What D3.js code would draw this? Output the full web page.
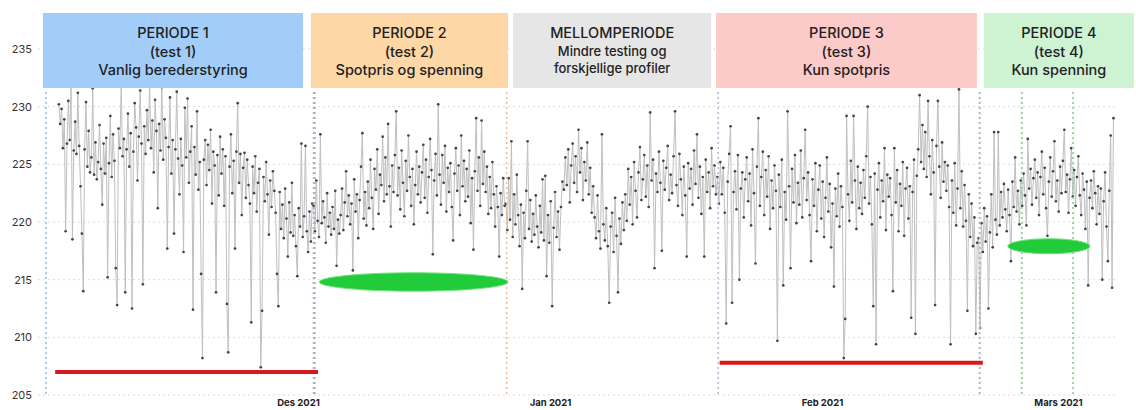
<!DOCTYPE html>
<html>
<head>
<meta charset="utf-8">
<script src="https://cdn.jsdelivr.net/npm/d3@7"></script>
<style>
  body { margin: 0; background: #fff; }
  svg { display: block; }
</style>
</head>
<body>
<svg id="chart" width="1136" height="410"></svg>
<script>
// Spenning (V) hver 4. time, lest av bildet periode for periode
const periode1 = [
  230.2, 228.5, 229.8, 226.4, 228.9, 219.2, 226.8, 230.5, 227.1, 231.8, 218.5, 226.2, 228.7, 225.9, 231.2, 226.6, 223.1, 219.0, 214.0, 226.3,
  230.4, 224.8, 227.9, 224.3, 225.6, 231.6, 224.1, 226.9, 223.7, 225.2, 228.4, 224.6, 221.5, 226.8, 224.2, 227.3, 215.2, 225.1, 229.2, 223.9,
  227.6, 225.3, 216.0, 212.8, 228.1, 226.4, 231.9, 225.7, 227.2, 213.9, 226.3, 229.4, 224.8, 227.7, 212.5, 226.1, 230.3, 228.2, 223.6, 227.4,
  231.4, 226.8, 214.6, 228.3, 225.9, 229.7, 227.1, 232.0, 226.4, 228.8, 224.3, 230.6, 227.9, 221.2, 228.5, 226.2, 231.7, 225.4, 228.9, 227.3,
  217.7, 226.5, 230.8, 224.2, 227.1, 219.0, 226.3, 231.3, 225.5, 222.4, 227.2, 224.9, 217.4, 229.9, 225.6, 230.7, 223.4, 226.1, 228.3, 212.4,
  226.5, 224.1, 229.6, 222.8, 225.2, 215.5, 208.2, 225.4, 227.1, 223.2, 226.7, 224.5, 228.0, 221.6, 226.1, 224.9, 213.9, 225.8, 222.3, 227.4,
  224.2, 226.3, 221.4, 225.7, 212.9, 208.7, 224.8, 227.6, 222.5, 225.3, 217.7, 226.1, 230.3, 223.4, 225.9, 220.6, 224.7, 226.0, 222.1, 225.4,
  223.2, 221.6, 211.3, 224.8, 222.5, 225.7, 220.9, 223.4, 224.6, 207.4, 212.3, 223.9, 221.8, 225.2, 222.4, 218.9, 223.6, 221.3, 224.4, 222.7,
  220.8, 215.5, 212.7, 222.6, 219.4, 221.5, 218.6, 222.9, 220.3, 217.0, 221.7, 219.1, 223.4, 218.8, 220.6, 217.9, 215.3, 221.2, 219.6, 226.8,
  218.7, 220.5, 226.6, 219.2, 217.4, 220.9, 218.3, 221.6
];
const periode2 = [
  221.4, 219.2, 223.6, 220.1, 218.7, 227.6, 219.9, 221.8, 220.4, 218.2, 222.5, 219.6, 220.8, 218.9, 221.3, 219.4, 222.7, 216.2, 220.2, 219.0,
  220.6, 222.9, 219.3, 221.7, 224.4, 220.5, 222.3, 219.8, 221.6, 215.8, 223.7, 220.9, 222.4, 218.6, 221.9, 224.8, 227.7, 220.3, 222.6, 219.7,
  223.5, 221.2, 225.4, 222.1, 219.4, 224.6, 222.8, 226.3, 220.7, 224.1, 223.2, 227.4, 221.8, 225.6, 222.4, 228.5, 223.1, 219.6, 224.9, 222.6,
  225.8, 229.6, 222.3, 224.7, 221.1, 226.2, 223.4, 220.5, 225.3, 222.7, 227.5, 223.9, 221.4, 224.6, 219.8, 223.2, 226.1, 222.4, 224.8, 221.7,
  224.3, 226.7, 222.1, 225.4, 220.8, 223.9, 227.2, 224.5, 217.2, 223.6, 225.9, 222.3, 230.2, 224.1, 221.5, 225.8, 223.4, 226.6, 220.9, 224.7,
  222.6, 225.1, 221.3, 218.4, 224.2, 226.4, 222.7, 224.9, 220.6, 227.5, 223.1, 225.3, 221.8, 224.6, 222.2, 226.2, 219.9, 223.8, 217.6, 224.4,
  229.0, 222.7, 225.6, 221.4, 228.8, 223.3, 226.1, 222.6, 224.8, 220.7, 223.9, 221.2, 225.2, 222.4, 219.6, 223.1, 221.3, 217.0, 222.5, 220.6,
  223.8, 221.4
];
const mellomperiode = [
  221.6, 219.3, 223.8, 220.2, 227.0, 218.7, 222.4, 219.8, 224.1, 220.6, 217.9, 221.5, 214.2, 220.8, 218.6, 222.7, 227.0, 219.4, 221.9, 218.3, 220.7,
  218.9, 222.3, 219.6, 217.8, 221.4, 219.1, 223.7, 218.4, 224.0, 215.3, 220.6, 218.2, 221.8, 212.7, 219.5, 222.6, 218.7, 220.9, 217.6, 221.3, 223.5,
  222.8, 225.6, 223.2, 226.3, 221.7, 224.9, 226.8, 223.4, 225.7, 222.6, 228.0, 224.3, 226.4, 221.9, 225.2, 223.6, 226.9, 222.4, 224.7, 220.8, 223.1,
  220.4, 218.6, 222.3, 219.2, 217.7, 227.6, 219.8, 218.4, 221.2, 217.9, 213.0, 219.6, 220.8, 217.4, 222.1, 218.8, 213.9, 220.3, 218.1, 221.7, 219.3,
  222.4, 220.1, 224.6, 221.5, 223.9, 219.8, 225.2, 222.7, 220.4, 224.3, 226.5, 221.9, 223.7, 225.8, 222.2, 224.9, 221.3, 229.5, 223.6, 225.4, 216.0,
  224.2, 222.6, 226.1, 223.4, 217.5, 225.3, 222.8, 224.7, 226.6, 221.9, 224.1, 222.5, 225.7, 229.6, 223.2, 221.4, 225.9, 223.7, 220.6, 224.8, 222.3,
  217.0, 225.1, 222.9, 224.6, 221.5, 226.2, 223.3, 227.6, 222.1, 224.8, 220.7, 223.9, 217.0, 225.4, 222.6, 224.3, 221.2, 226.4, 223.1, 224.9, 222.4
];
const periode3 = [
  223.9, 221.6, 225.2, 222.4, 224.7, 220.8, 211.2, 223.5, 225.9, 228.3, 213.0, 222.6, 224.4, 221.1, 225.8, 215.0, 222.9, 224.3, 220.4, 223.7,
  225.6, 221.8, 224.2, 219.7, 226.3, 222.5, 216.4, 224.8, 229.0, 221.4, 223.9, 226.1, 220.6, 224.5, 222.2, 225.7, 219.4, 223.6, 221.2, 224.9,
  222.7, 209.7, 224.1, 221.3, 225.4, 214.5, 222.6, 220.2, 229.6, 223.1, 216.0, 224.6, 221.7, 225.8, 219.9, 223.4, 221.5, 226.2, 220.4, 223.8,
  228.0, 221.9, 224.3, 220.6, 216.6, 223.7, 221.4, 225.1, 219.2, 222.8, 224.9, 220.3, 223.5, 218.7, 222.1, 225.6, 220.9, 223.3, 217.8, 221.6,
  214.4, 222.9, 220.5, 224.2, 219.6, 223.1, 221.3, 208.2, 211.6, 229.2, 222.4, 220.1, 225.3, 221.7, 229.2, 223.6, 219.4, 224.8, 221.2, 223.4,
  220.7, 224.5, 222.1, 225.7, 230.0, 221.6, 223.9, 219.8, 212.7, 224.2, 209.4, 222.8, 225.1, 220.4, 223.6, 221.8, 226.4, 219.3, 224.1, 222.2,
  223.8, 220.6, 214.0, 226.4, 221.7, 224.5, 219.2, 223.3, 221.4, 225.2, 218.8, 222.9, 224.7, 220.3, 223.1, 211.7, 222.6, 225.4, 210.3, 224.0,
  226.3, 231.0, 225.2, 228.4, 224.6, 227.8, 223.9, 230.5, 225.7, 222.4, 227.1, 224.3, 212.8, 226.6, 230.5, 224.8, 222.1, 226.9, 223.5, 225.2,
  222.7, 224.9, 221.3, 209.4, 223.6, 220.8, 225.1, 219.7, 222.9, 231.5, 221.2, 224.4, 219.6, 223.2, 220.1, 212.3, 222.4, 218.7, 221.6, 217.9,
  220.4, 210.3, 218.2
];
const periode4 = [
  218.6, 210.8, 219.9, 217.4, 221.2, 218.3, 220.5, 212.5, 219.1, 222.4, 217.8, 227.8, 220.2, 218.9, 227.8,
  219.7, 222.6, 220.4, 223.3, 221.1, 219.2, 222.8, 220.6, 216.6, 223.5, 221.3, 225.6, 220.9, 222.7, 219.8,
  223.6, 221.4, 224.2, 222.3, 219.7, 227.2, 222.9, 224.6, 221.5, 223.8, 225.4, 222.1, 224.3, 220.6, 223.9,
  226.1, 222.4, 224.7, 221.2, 218.8, 223.5, 225.6, 222.2, 224.4, 227.0, 221.8, 223.6, 220.9, 224.8, 222.5,
  225.3, 228.0, 222.6, 224.1, 220.8, 223.7, 226.4, 222.2, 224.5, 221.4, 223.9, 225.7, 222.3, 220.6, 224.2,
  222.8, 219.4, 223.5, 214.5, 222.1, 223.6, 221.2, 224.4, 222.5, 219.8, 223.1, 220.7, 222.9, 215.0, 221.8,
  224.3, 219.6, 216.6, 222.7, 227.5, 214.3, 229.0
];

// Første måling og tid mellom målingene
const forsteMaling = new Date(2021, 10, 1, 14);
const stegTimer = 4;

// Akser
const yTicks = [205, 210, 215, 220, 225, 230, 235];
const xTickDatoer = [new Date(2021, 11, 1), new Date(2022, 0, 1), new Date(2022, 1, 1), new Date(2022, 2, 1)];
const xTickTekster = ["Des 2021", "Jan 2021", "Feb 2021", "Mars 2021"];

// Overskriftsbokser
const boksTekster = [
  ["PERIODE 1", "(test 1)", "Vanlig berederstyring"],
  ["PERIODE 2", "(test 2)", "Spotpris og spenning"],
  ["MELLOMPERIODE", "Mindre testing og", "forskjellige profiler"],
  ["PERIODE 3", "(test 3)", "Kun spotpris"],
  ["PERIODE 4", "(test 4)", "Kun spenning"]
];
const boksFarger = ["#a2cdf9", "#fdd7a6", "#e6e6e6", "#fdcaca", "#cdf3d3"];
const boksStart = [new Date(2021, 9, 30, 15), new Date(2021, 11, 2, 14), new Date(2021, 11, 27, 11), new Date(2022, 0, 19, 22), new Date(2022, 1, 20, 5)];
const boksSlutt = [new Date(2021, 11, 1, 15), new Date(2021, 11, 26, 20), new Date(2022, 0, 19, 9), new Date(2022, 1, 19, 9), new Date(2022, 2, 10)];

// Vertikale prikkede skillelinjer
const skilleDatoer = [new Date(2021, 9, 31), new Date(2021, 11, 3), new Date(2021, 11, 26, 16), new Date(2022, 0, 20, 4), new Date(2022, 1, 19, 17), new Date(2022, 1, 24, 17), new Date(2022, 2, 2, 19)];
const skilleFarger = ["#a6cdef", "#a9b6c6", "#efb68f", "#b7b5d3", "#b3b2ca", "#9fd29f", "#9fd29f"];
const skilleBredde = [2, 3, 1.5, 1.5, 2, 2, 2];

// Røde nivålinjer (laveste spenning)
const rodStart = [new Date(2021, 10, 1, 3), new Date(2022, 0, 20, 8)];
const rodSlutt = [new Date(2021, 11, 3, 11), new Date(2022, 1, 20, 2)];
const rodNiva = [207.0, 207.8];

// Grønne ellipser (mål for laveste spenning)
const gronnStart = [new Date(2021, 11, 3, 15), new Date(2022, 1, 23, 1)];
const gronnSlutt = [new Date(2021, 11, 26, 20), new Date(2022, 2, 4, 19)];
const gronnNiva = [214.8, 217.9];
const gronnHoyde = [0.8, 0.65];

const svg = d3.select("#chart");

let alleVerdier = periode1.concat(periode2, mellomperiode, periode3, periode4);
let data = alleVerdier.map((v, i) => ({
  tid: new Date(forsteMaling.getTime() + i * stegTimer * 3600 * 1000),
  verdi: v
}));

// Tidsakse med ett ankerpunkt per måned
let x = d3.scaleTime()
  .domain([new Date(2021, 9, 31), new Date(2021, 11, 1), new Date(2022, 0, 1), new Date(2022, 1, 1), new Date(2022, 2, 1), new Date(2022, 2, 8)])
  .range([46, 298, 550, 822, 1058, 1117]);

let y = d3.scaleLinear()
  .domain([205, 235])
  .range([395, 49]);

// Rutenett
svg.append("g")
  .selectAll("line")
  .data(yTicks)
  .enter()
  .append("line")
  .attr("x1", 38)
  .attr("x2", 1118)
  .attr("y1", d => y(d))
  .attr("y2", d => y(d))
  .attr("stroke", "#dcdcdc")
  .attr("stroke-width", 1)
  .attr("stroke-dasharray", "2,3");

// Y-akse
let yAxis = svg.append("g")
  .attr("transform", "translate(35,0)")
  .call(d3.axisLeft(y).tickValues(yTicks).tickSize(0).tickPadding(3));
yAxis.select(".domain").remove();
yAxis.selectAll("text")
  .style("font-family", "Inter, 'Open Sans', sans-serif")
  .style("font-size", "11px")
  .style("fill", "#333");

// X-akse
let xAxis = svg.append("g")
  .attr("transform", "translate(0,394)")
  .call(d3.axisBottom(x).tickValues(xTickDatoer).tickFormat((d, i) => xTickTekster[i]).tickSize(0).tickPadding(5));
xAxis.select(".domain").remove();
xAxis.selectAll("text")
  .style("font-family", "Inter, 'Open Sans', sans-serif")
  .style("font-size", "9.5px")
  .style("font-weight", "bold")
  .style("fill", "#222");

// Klipp dataene under overskriftene
svg.append("clipPath")
  .attr("id", "plotClip")
  .append("rect")
  .attr("x", 30)
  .attr("y", 88)
  .attr("width", 1100)
  .attr("height", 312);

let plot = svg.append("g").attr("clip-path", "url(#plotClip)");

// Linje og punkter
let linje = d3.line()
  .x(d => x(d.tid))
  .y(d => y(d.verdi));

plot.append("path")
  .datum(data)
  .attr("d", linje)
  .attr("fill", "none")
  .attr("stroke", "#bfbfbf")
  .attr("stroke-width", 1);

plot.append("g")
  .selectAll("circle")
  .data(data)
  .enter()
  .append("circle")
  .attr("cx", d => x(d.tid))
  .attr("cy", d => y(d.verdi))
  .attr("r", 1.35)
  .attr("fill", "#444");

// Skillelinjer
svg.append("g")
  .selectAll("line")
  .data(skilleDatoer)
  .enter()
  .append("line")
  .attr("x1", d => x(d))
  .attr("x2", d => x(d))
  .attr("y1", 92)
  .attr("y2", 396)
  .attr("stroke", (d, i) => skilleFarger[i])
  .attr("stroke-width", (d, i) => skilleBredde[i])
  .attr("stroke-dasharray", "2,3");

// Røde linjer
svg.append("g")
  .selectAll("line")
  .data(rodNiva)
  .enter()
  .append("line")
  .attr("x1", (d, i) => x(rodStart[i]))
  .attr("x2", (d, i) => x(rodSlutt[i]))
  .attr("y1", d => y(d))
  .attr("y2", d => y(d))
  .attr("stroke", "#d8191b")
  .attr("stroke-width", 4);

// Grønne ellipser
svg.append("g")
  .selectAll("ellipse")
  .data(gronnNiva)
  .enter()
  .append("ellipse")
  .attr("cx", (d, i) => (x(gronnStart[i]) + x(gronnSlutt[i])) / 2)
  .attr("cy", d => y(d))
  .attr("rx", (d, i) => (x(gronnSlutt[i]) - x(gronnStart[i])) / 2)
  .attr("ry", (d, i) => y(d - gronnHoyde[i]) - y(d))
  .attr("fill", "#22cb3a")
  .attr("stroke", "#6fe27d")
  .attr("stroke-width", 1);

// Overskriftsbokser
let bokser = svg.append("g")
  .selectAll("g")
  .data(boksTekster)
  .enter()
  .append("g");

bokser.append("rect")
  .attr("x", (d, i) => x(boksStart[i]))
  .attr("y", 13)
  .attr("width", (d, i) => x(boksSlutt[i]) - x(boksStart[i]))
  .attr("height", 75)
  .attr("fill", (d, i) => boksFarger[i]);

bokser.each(function (linjer, i) {
  let midt = (x(boksStart[i]) + x(boksSlutt[i])) / 2;
  let mellom = linjer[0] === "MELLOMPERIODE";
  let ypos = mellom ? [38, 56, 73] : [38, 57, 75];
  linjer.forEach((t, j) => {
    d3.select(this).append("text")
      .text(t)
      .attr("x", midt)
      .attr("y", ypos[j])
      .attr("text-anchor", "middle")
      .style("font-family", "Inter, 'Open Sans', sans-serif")
      .style("font-size", (mellom && j > 0) ? "13px" : "14.5px")
      .style("font-weight", "500")
      .style("fill", "#222");
  });
});
</script>
</body>
</html>
